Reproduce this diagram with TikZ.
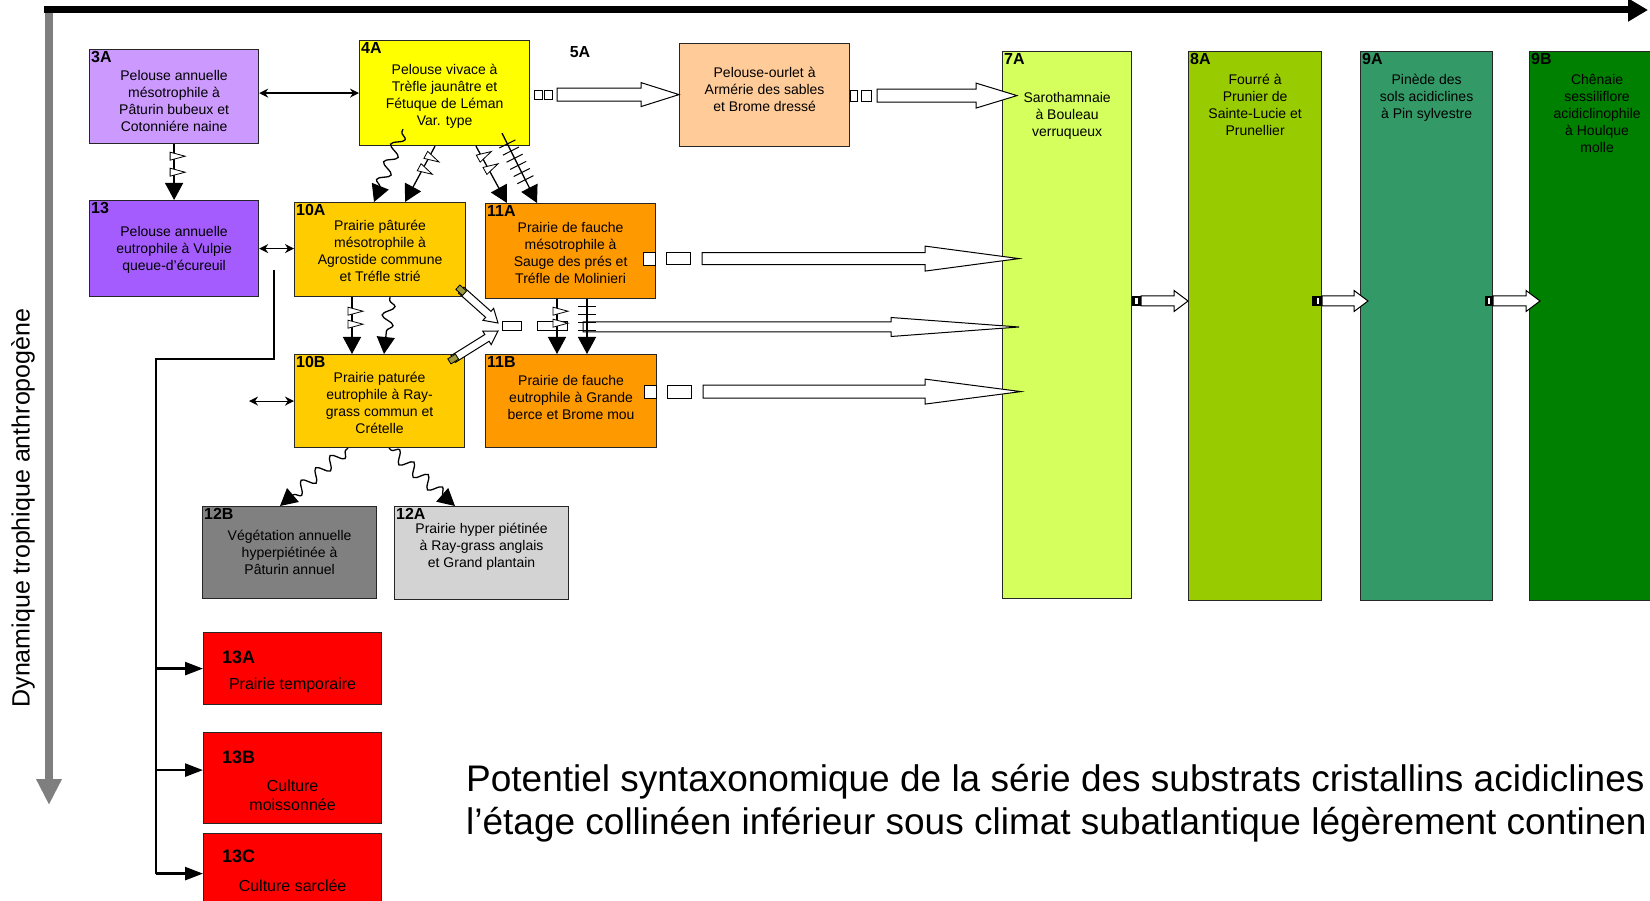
\documentclass[tikz,border=0pt]{standalone}
\usepackage{fontspec}
\setmainfont{Liberation Sans}
\usetikzlibrary{calc, arrows.meta, decorations.pathmorphing, decorations.markings}

\definecolor{c3A}{HTML}{CC99FF}
\definecolor{c13}{HTML}{A55CFF}
\definecolor{c4A}{HTML}{FFFF00}
\definecolor{c5A}{HTML}{FFCC99}
\definecolor{c10}{HTML}{FFCC00}
\definecolor{c11}{HTML}{FF9900}
\definecolor{c12B}{HTML}{808080}
\definecolor{c12A}{HTML}{D3D3D3}
\definecolor{c13x}{HTML}{FF0000}
\definecolor{c7A}{HTML}{D4FF5C}
\definecolor{c8A}{HTML}{99CC00}
\definecolor{c9A}{HTML}{339966}
\definecolor{c9B}{HTML}{008000}
\definecolor{axisgray}{HTML}{7F7F7F}
\definecolor{olivemark}{HTML}{9C9C3C}

\newcommand{\hollowarrow}[5]{%
	\coordinate (hb) at ($(#2)!#5!(#1)$);
	\draw[line width = 1pt, fill = white, line join = miter]
		($(#1)!#3!90:(#2)$) -- ($(hb)!#3!-90:(#1)$) -- ($(hb)!#4!-90:(#1)$) -- (#2)
		-- ($(hb)!#4!90:(#1)$) -- ($(hb)!#3!90:(#1)$) -- ($(#1)!#3!-90:(#2)$) -- cycle;
}

\tikzset{
	veg/.style = {draw = black!85, line width = 1.2pt, inner sep = 0pt, anchor = north west},
	tag/.style = {anchor = north west, inner sep = 2pt, font = \bfseries\fontsize{16}{16}\selectfont},
	txt/.style = {anchor = north, align = center, inner sep = 0pt, font = \fontsize{14}{17}\selectfont, execute at begin node = \strut},
	tagred/.style = {anchor = west, inner sep = 0pt, font = \bfseries\fontsize{18}{18}\selectfont},
	txtred/.style = {align = center, inner sep = 0pt, font = \fontsize{16}{19}\selectfont},
	dblarrow/.style = {line width = 1.2pt, {Stealth[length = 9pt, width = 9pt]}-{Stealth[length = 9pt, width = 9pt]}},
	bigtip/.style = {line width = 1.3pt, -{Triangle[width = 18pt, length = 17pt]}},
	flag at/.style = {postaction = {decorate, decoration = {markings, mark = at position #1 with {\draw[-, line width = 0.8pt, fill = white] (-4pt,-4pt) -- (0pt,11pt) -- (4pt,-4pt) -- cycle;}}}},
	ticks/.style 2 args = {postaction = {decorate, decoration = {markings, mark = between positions #1 and #2 step 8pt with {\draw[-, line width = 1pt] (0pt,-9pt) -- (0pt,9pt);}}}},
	wave/.style = {bigtip, decorate, decoration = {snake, amplitude = 6pt, segment length = 19pt, pre length = 3pt, post length = 14pt}},
	branch/.style = {line width = 2.5pt, -{Triangle[width = 13pt, length = 18pt]}},
	sq/.style = {draw, line width = 1pt, fill = white},
	olivebox/.style = {draw, line width = 0.8pt, fill = olivemark, minimum width = 9pt, minimum height = 6pt, inner sep = 0pt},
	stopmark/.style = {fill = black}
}

\begin{document}
\begin{tikzpicture}[x = 1pt, y = -1pt]
	\useasboundingbox (0,0) rectangle (1650,901);
	
	\coordinate (X0) at (44,10);
	\coordinate (X1) at (1648,10);
	\coordinate (Y0) at (49,13);
	\coordinate (Y1) at (49,805);
	\draw[line width = 8pt, axisgray, -{Triangle[width = 24pt, length = 26pt]}] (Y0) -- (Y1);
	\draw[line width = 7pt, -{Triangle[width = 22pt, length = 20pt]}] (X0) -- (X1);
	\node[rotate = 90, font = \fontsize{25}{25}\selectfont] (ylabel) at (23,508) {Dynamique trophique anthropogène};
	
	\node[veg, fill = c3A, minimum width = 169pt, minimum height = 94pt] (b3A) at (89,49) {};
	\node[veg, fill = c4A, minimum width = 170pt, minimum height = 105pt] (b4A) at (359,40) {};
	\node[veg, fill = c5A, minimum width = 170pt, minimum height = 103pt] (b5A) at (679,43) {};
	\node[veg, fill = c7A, minimum width = 129pt, minimum height = 547pt] (b7A) at (1002,51) {};
	\node[veg, fill = c8A, minimum width = 133pt, minimum height = 549pt] (b8A) at (1188,51) {};
	\node[veg, fill = c9A, minimum width = 132pt, minimum height = 549pt] (b9A) at (1360,51) {};
	\node[veg, fill = c9B, minimum width = 135pt, minimum height = 549pt] (b9B) at (1529,51) {};
	\node[veg, fill = c13, minimum width = 169pt, minimum height = 96pt] (b13) at (89,200) {};
	\node[veg, fill = c10, minimum width = 171pt, minimum height = 94pt] (b10A) at (294,202) {};
	\node[veg, fill = c11, minimum width = 170pt, minimum height = 95pt] (b11A) at (485,203) {};
	\node[veg, fill = c10, minimum width = 170pt, minimum height = 93pt] (b10B) at (294,354) {};
	\node[veg, fill = c11, minimum width = 171pt, minimum height = 93pt] (b11B) at (485,354) {};
	\node[veg, fill = c12B, minimum width = 174pt, minimum height = 92pt] (b12B) at (202,506) {};
	\node[veg, fill = c12A, minimum width = 174pt, minimum height = 93pt] (b12A) at (394,506) {};
	\node[veg, fill = c13x, minimum width = 178pt, minimum height = 72pt] (b13A) at (203,632) {};
	\node[veg, fill = c13x, minimum width = 178pt, minimum height = 91pt] (b13B) at (203,732) {};
	\node[veg, fill = c13x, minimum width = 178pt, minimum height = 80pt] (b13C) at (203,833) {};
	
	\node[tag] (l3A) at (b3A.north west) {3A};
	\node[tag] (l4A) at (b4A.north west) {4A};
	\node[tag, anchor = center] (l5A) at (580,52) {5A};
	\node[tag] (l7A) at (b7A.north west) {7A};
	\node[tag] (l8A) at (b8A.north west) {8A};
	\node[tag] (l9A) at (b9A.north west) {9A};
	\node[tag] (l9B) at (b9B.north west) {9B};
	\node[tag] (l13) at (b13.north west) {13};
	\node[tag] (l10A) at (b10A.north west) {10A};
	\node[tag] (l11A) at (b11A.north west) {11A};
	\node[tag] (l10B) at (b10B.north west) {10B};
	\node[tag] (l11B) at (b11B.north west) {11B};
	\node[tag] (l12B) at (b12B.north west) {12B};
	\node[tag] (l12A) at (b12A.north west) {12A};
	\node[tagred] (l13A) at ($(b13A.north west)+(19,25)$) {13A};
	\node[tagred] (l13B) at ($(b13B.north west)+(19,25)$) {13B};
	\node[tagred] (l13C) at ($(b13C.north west)+(19,23)$) {13C};
	
	\node[txt] (t3A) at ($(b3A.north)+(0,21)$) {Pelouse annuelle\\mésotrophile à\\Pâturin bubeux et\\Cotonniére naine};
	\node[txt] (t4A) at ($(b4A.north)+(0,24)$) {Pelouse vivace à\\Trèfle jaunâtre et\\Fétuque de Léman\\Var. type};
	\node[txt] (t5A) at ($(b5A.north)+(0,24)$) {Pelouse-ourlet à\\Armérie des sables\\et Brome dressé};
	\node[txt] (t7A) at ($(b7A.north)+(0,41)$) {Sarothamnaie\\à Bouleau\\verruqueux};
	\node[txt] (t8A) at ($(b8A.north)+(0,23)$) {Fourré à\\Prunier de\\Sainte-Lucie et\\Prunellier};
	\node[txt] (t9A) at ($(b9A.north)+(0,23)$) {Pinède des\\sols acidiclines\\à Pin sylvestre};
	\node[txt] (t9B) at ($(b9B.north)+(0,23)$) {Chênaie\\sessiliflore\\acidiclinophile\\à Houlque\\molle};
	\node[txt] (t13) at ($(b13.north)+(0,26)$) {Pelouse annuelle\\eutrophile à Vulpie\\queue-d'écureuil};
	\node[txt] (t10A) at ($(b10A.north)+(0,18)$) {Prairie pâturée\\mésotrophile à\\Agrostide commune\\et Tréfle strié};
	\node[txt] (t11A) at ($(b11A.north)+(0,19)$) {Prairie de fauche\\mésotrophile à\\Sauge des prés et\\Tréfle de Molinieri};
	\node[txt] (t10B) at ($(b10B.north)+(0,18)$) {Prairie paturée\\eutrophile à Ray-\\grass commun et\\Crételle};
	\node[txt] (t11B) at ($(b11B.north)+(0,21)$) {Prairie de fauche\\eutrophile à Grande\\berce et Brome mou};
	\node[txt] (t12B) at ($(b12B.north)+(0,24)$) {Végétation annuelle\\hyperpiétinée à\\Pâturin annuel};
	\node[txt] (t12A) at ($(b12A.north)+(0,17)$) {Prairie hyper piétinée\\à Ray-grass anglais\\et Grand plantain};
	\node[txtred] (t13A) at ($(b13A.north)+(0,53)$) {Prairie temporaire};
	\node[txtred] (t13B) at ($(b13B.north)+(0,63)$) {Culture\\moissonnée};
	\node[txtred] (t13C) at ($(b13C.north)+(0,53)$) {Culture sarclée};
	
	\node[anchor = base west, inner sep = 0pt, font = \fontsize{37}{43}\selectfont] (cap1) at (466,791) {Potentiel syntaxonomique de la série des substrats cristallins acidiclines};
	\node[anchor = base west, inner sep = 0pt, font = \fontsize{37}{43}\selectfont] (cap2) at (466,834) {l’étage collinéen inférieur sous climat subatlantique légèrement continen};
	
	\draw[dblarrow] (b4A.west -| b3A.east) -- (b4A.west);
	\draw[dblarrow] (b13.east) -- (b13.east -| b10A.west);
	\coordinate (free10B) at (249,400);
	\draw[dblarrow] (free10B |- b10B.west) -- (b10B.west);
	
	\draw[bigtip, flag at = 12pt, flag at = 28pt] (b3A.south) -- (b13.north);
	\draw[bigtip, flag at = 12pt, flag at = 26pt] ($(b4A.south west)+(76,0)$) -- ($(b10A.north west)+(111,0)$);
	\draw[bigtip, flag at = 12pt, flag at = 26pt] ($(b4A.south west)+(117,0)$) -- ($(b11A.north west)+(22,0)$);
	\draw[bigtip, ticks = {12pt}{52pt}] ($(b4A.south west)+(143,-13)$) -- ($(b11A.north west)+(52,0)$);
	\draw[wave] ($(b4A.south west)+(44,-17)$) -- ($(b10A.north west)+(80,0)$);
	
	\coordinate (merge) at (498,327);
	\draw[sq] ($(merge)+(4,-5)$) rectangle ($(merge)+(23,4)$);
	\draw[sq] ($(merge)+(39,-5)$) rectangle ($(merge)+(69,4)$);
	\coordinate (tmid) at ($(merge)+(85,0)$);
	\coordinate (hmid) at ($(merge -| b7A.west)+(17,0)$);
	\hollowarrow{tmid}{hmid}{5pt}{9.5pt}{128pt}
	\coordinate (tdA) at ($(b10A.south east)+(-5,-7)$);
	\coordinate (tdB) at ($(b10B.north east)+(-12,5)$);
	\hollowarrow{tdA}{$(merge)+(0,-4)$}{4pt}{8pt}{13pt}
	\hollowarrow{tdB}{$(merge)+(0,4)$}{4pt}{8pt}{13pt}
	\node[olivebox, rotate = -42] (oA) at (tdA) {};
	\node[olivebox, rotate = 32] (oB) at (tdB) {};
	
	\draw[bigtip, flag at = 14pt, flag at = 27pt] ($(b10A.south west)+(58,0)$) -- ($(b10B.north west)+(58,0)$);
	\draw[wave] ($(b10A.south west)+(96,0)$) -- ($(b10B.north west)+(90,0)$);
	\draw[bigtip, flag at = 12pt, flag at = 24pt] ($(b11A.south west)+(72,0)$) -- ($(b11B.north west)+(72,0)$);
	\draw[bigtip, ticks = {7pt}{32pt}] ($(b11A.south west)+(102,0)$) -- ($(b11B.north west)+(102,0)$);
	\draw[wave] ($(b10B.south west)+(54,0)$) -- ($(b12B.north west)+(78,0)$);
	\draw[wave] ($(b10B.south west)+(95,0)$) -- ($(b12A.north west)+(61,0)$);
	
	\draw[sq] ($(b4A.east)+(4,-3)$) rectangle +(8,9);
	\draw[sq] ($(b4A.east)+(14,-3)$) rectangle +(8,9);
	\coordinate (t45) at ($(b4A.east)+(27,1.5)$);
	\coordinate (h45) at (t45 -| b5A.west);
	\hollowarrow{t45}{h45}{6.5pt}{12pt}{38pt}
	
	\draw[sq] ($(b5A.east)+(0,-5)$) rectangle +(7,11);
	\draw[sq] ($(b5A.east)+(11,-5)$) rectangle +(10,11);
	\coordinate (t57) at ($(b5A.east)+(27,0.5)$);
	\coordinate (h57) at ($(t57 -| b7A.west)+(15,0)$);
	\hollowarrow{t57}{h57}{6.5pt}{12.5pt}{41pt}
	
	\draw[sq] ($(b11A.east)+(-13,1)$) rectangle +(12,13);
	\draw[sq] ($(b11A.east)+(10,1.5)$) rectangle +(24,12);
	\coordinate (t117) at ($(b11A.east)+(46,7.5)$);
	\coordinate (h117) at ($(t117 -| b7A.west)+(17,0)$);
	\hollowarrow{t117}{h117}{6pt}{12.5pt}{94pt}
	
	\draw[sq] ($(b11B.east)+(-13,-16)$) rectangle +(12,13);
	\draw[sq] ($(b11B.east)+(10,-16)$) rectangle +(24,13);
	\coordinate (t11B7) at ($(b11B.east)+(46,-9.5)$);
	\coordinate (h11B7) at ($(t11B7 -| b7A.west)+(19,0)$);
	\hollowarrow{t11B7}{h11B7}{6.5pt}{12.5pt}{96pt}
	
	\coordinate (t78) at ($(b7A.north east)+(9,250)$);
	\coordinate (h78) at (t78 -| b8A.west);
	\fill[stopmark] ($(t78)+(-9,-5)$) rectangle ($(t78)+(0,5)$);
	\fill[white] ($(t78)+(-6,-3)$) rectangle ($(t78)+(-3.5,3)$);
	\hollowarrow{t78}{h78}{5pt}{10.5pt}{14pt}
	
	\coordinate (t89) at ($(b8A.north east)+(0,250)$);
	\coordinate (h89) at ($(t89 -| b9A.west)+(8,0)$);
	\fill[stopmark] ($(t89)+(-10,-5)$) rectangle ($(t89)+(0,5)$);
	\fill[white] ($(t89)+(-5,-3)$) rectangle ($(t89)+(-3,3)$);
	\hollowarrow{t89}{h89}{5pt}{10.5pt}{14pt}
	
	\coordinate (t99) at ($(b9A.north east)+(0,250)$);
	\coordinate (h99) at ($(t99 -| b9B.west)+(11,0)$);
	\fill[stopmark] ($(t99)+(-8,-5)$) rectangle ($(t99)+(0,5)$);
	\fill[white] ($(t99)+(-5,-3)$) rectangle ($(t99)+(-3,3)$);
	\hollowarrow{t99}{h99}{5pt}{10.5pt}{14pt}
	
	\coordinate (brk) at (274,270);
	\coordinate (trunk) at (156,359);
	\draw[line width = 2.5pt, line join = miter] (brk) |- (trunk) -- (trunk |- b13C.west);
	\draw[branch] (trunk |- b13A.west) -- (b13A.west);
	\draw[branch] ($(trunk |- b13B.west)+(0,-8)$) -- ($(b13B.west)+(0,-8)$);
	\draw[branch] (trunk |- b13C.west) -- (b13C.west);
\end{tikzpicture}
\end{document}
